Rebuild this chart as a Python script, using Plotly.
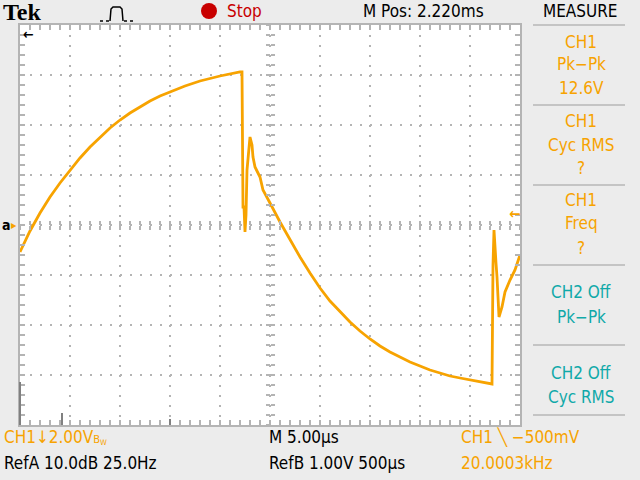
import plotly.graph_objects as go

# trace: time in us (5 us/div), CH1 volts (2 V/div)
t_us = [0, 0.5, 1.0, 2.0, 3.0, 4.0, 5.0, 6.0, 7.0, 8.0, 9.0, 10.0, 11.0, 12.0, 13.0,
        14.0, 15.0, 16.5, 18.0, 20.0, 22.0, 22.2, 22.3, 22.4, 22.5, 22.6, 22.7, 23.0,
        23.2, 23.3, 23.5, 24.0, 24.3, 24.8, 25.0, 26.0, 27.0, 28.0, 29.0, 30.0, 31.0,
        32.0, 33.0, 34.0, 35.0, 36.0, 37.0, 38.0, 39.0, 40.0, 41.0, 42.0, 43.0, 44.0,
        45.0, 46.0, 47.2, 47.3, 47.4, 47.6, 47.7, 47.9, 48.2, 48.5, 49.0, 49.5, 49.9, 50.0]
ch1_v = [-1.08, -0.64, -0.24, 0.48, 1.12, 1.68, 2.20, 2.68, 3.12, 3.52, 3.88, 4.20, 4.48,
         4.72, 4.96, 5.16, 5.32, 5.56, 5.76, 5.96, 6.12, 6.12, 0.72, 0.72, -0.28, 0.40,
         2.20, 3.52, 3.20, 2.72, 2.32, 1.92, 1.40, 1.00, 0.88, 0.12, -0.60, -1.28, -1.92,
         -2.52, -3.04, -3.48, -3.88, -4.24, -4.56, -4.84, -5.08, -5.28, -5.48, -5.64,
         -5.80, -5.92, -6.04, -6.12, -6.20, -6.28, -6.36, -1.60, -0.20, -1.52, -2.08,
         -3.68, -3.28, -2.68, -2.20, -1.80, -1.28, -1.20]

ORANGE = "#f7a300"
CYAN = "#10a9a9"
GRID = "#b4b4b4"
FONT = "DejaVu Sans Condensed"

def px(x):  # screen pixel -> paper x
    return (x - 20) / 500

def py(y):  # screen pixel -> paper y
    return (425 - y) / 400

fig = go.Figure()
fig.add_trace(go.Scatter(x=t_us, y=ch1_v, mode="lines",
                         line=dict(color=ORANGE, width=2.8), hoverinfo="skip"))
# empty traces so the crosshair axes get drawn
for xa, ya in [("x2", "y"), ("x3", "y"), ("x", "y2"), ("x", "y3")]:
    fig.add_trace(go.Scatter(x=[None], y=[None], xaxis=xa, yaxis=ya, showlegend=False))

axis_common = dict(showticklabels=False, showline=True, linecolor=GRID, linewidth=2,
                   mirror="ticks", ticks="inside", ticklen=5, tickcolor=GRID, tickwidth=2,
                   showgrid=True, gridcolor=GRID, gridwidth=2, griddash="2px,8px",
                   zeroline=False, fixedrange=True, automargin=False)
center_common = dict(showticklabels=False, showline=False, showgrid=False, zeroline=False,
                     ticklen=4, tickcolor=GRID, tickwidth=2, anchor="free", position=0.5,
                     automargin=False)

fig.update_layout(
    width=640, height=480,
    margin=dict(l=20, r=120, t=25, b=55, autoexpand=False),
    paper_bgcolor="#ececec", plot_bgcolor="white",
    showlegend=False,
    xaxis=dict(range=[0, 50], dtick=5, tick0=0,
               minor=dict(dtick=1, ticks="inside", ticklen=5, tickcolor=GRID, tickwidth=2),
               **axis_common),
    yaxis=dict(range=[-8, 8], dtick=2, tick0=0,
               minor=dict(dtick=0.4, ticks="inside", ticklen=5, tickcolor=GRID, tickwidth=2),
               **axis_common),
    xaxis2=dict(overlaying="x", range=[0, 50], dtick=1, tick0=0, ticks="outside", **center_common),
    xaxis3=dict(overlaying="x", range=[0, 50], dtick=1, tick0=0, ticks="inside", **center_common),
    yaxis2=dict(overlaying="y", range=[-8, 8], dtick=0.4, tick0=0, ticks="outside", **center_common),
    yaxis3=dict(overlaying="y", range=[-8, 8], dtick=0.4, tick0=0, ticks="inside", **center_common),
)

def label(x, y, text, color="black", size=17, anchor="center", family=FONT):
    fig.add_annotation(x=px(x), y=py(y), xref="paper", yref="paper", text=text,
                       showarrow=False, xanchor=anchor, yanchor="middle",
                       font=dict(family=family, size=size, color=color))

# header
label(1, 12, "<b>Tek</b>", size=24, anchor="left", family="Liberation Serif")
label(225, 11, "Stop", color="#c80000", anchor="left")
label(423, 11, "M Pos: 2.220ms")
label(580, 11, "MEASURE")

# measure panel
for txt, y, c in [("CH1", 42, ORANGE), ("Pk−Pk", 64, ORANGE), ("12.6V", 88, ORANGE),
                  ("CH1", 121, ORANGE), ("Cyc RMS", 145, ORANGE), ("?", 168, ORANGE),
                  ("CH1", 200, ORANGE), ("Freq", 223, ORANGE), ("?", 248, ORANGE),
                  ("CH2 Off", 292, CYAN), ("Pk−Pk", 317, CYAN),
                  ("CH2 Off", 373, CYAN), ("Cyc RMS", 397, CYAN)]:
    label(581, y, txt, color=c)

# footer
label(2, 437, "CH1↓2.00V<span style='font-size:11px'>B<sub>W</sub></span>", color=ORANGE, anchor="left")
label(2, 463, "RefA 10.0dB 25.0Hz", anchor="left")
label(267, 437, "M 5.00µs", anchor="left")
label(267, 463, "RefB 1.00V 500µs", anchor="left")
label(459, 437, "CH1 ╲ −500mV", color=ORANGE, anchor="left")
label(459, 463, "20.0003kHz", color=ORANGE, anchor="left")

# screen markers
label(28, 34, "<b>←</b>", size=14)
label(514, 214, "<b>←</b>", color=ORANGE, size=15)
label(6, 225, "<b>a</b>", size=14)
label(14, 225, "▸", color=ORANGE, size=12)

shapes = []
for y in [25, 105, 185, 265, 345, 415]:
    shapes.append(dict(type="line", xref="paper", yref="paper", x0=px(533), x1=px(625),
                       y0=py(y), y1=py(y), line=dict(color="#c4c4c4", width=2)))
shapes.append(dict(type="circle", xref="paper", yref="paper", x0=px(201), x1=px(217),
                   y0=py(19), y1=py(3), fillcolor="#c80000", line=dict(width=0)))
pulse = [(110, 21), (111, 9), (113, 7), (120, 7), (122, 9), (123, 21)]
shapes.append(dict(type="path", xref="paper", yref="paper",
                   path="M " + " L ".join(f"{px(a)},{py(b)}" for a, b in pulse),
                   line=dict(color="black", width=1.5)))
for a, b in [(100, 109), (124, 135)]:
    shapes.append(dict(type="line", xref="paper", yref="paper", x0=px(a), x1=px(b),
                       y0=py(21), y1=py(21), line=dict(color="black", width=1.5, dash="dot")))
for x0, y0, y1 in [(20, 382, 425), (62, 413, 425), (170, 419, 425)]:
    shapes.append(dict(type="line", xref="paper", yref="paper", x0=px(x0), x1=px(x0),
                       y0=py(y0), y1=py(y1), line=dict(color="#808080", width=2)))
fig.update_layout(shapes=shapes)

# drop the default 8px page margin so the figure sits at the window corner
fig.write_html("out.html", config={"displayModeBar": False},
               post_script="document.body.style.margin='0';")
